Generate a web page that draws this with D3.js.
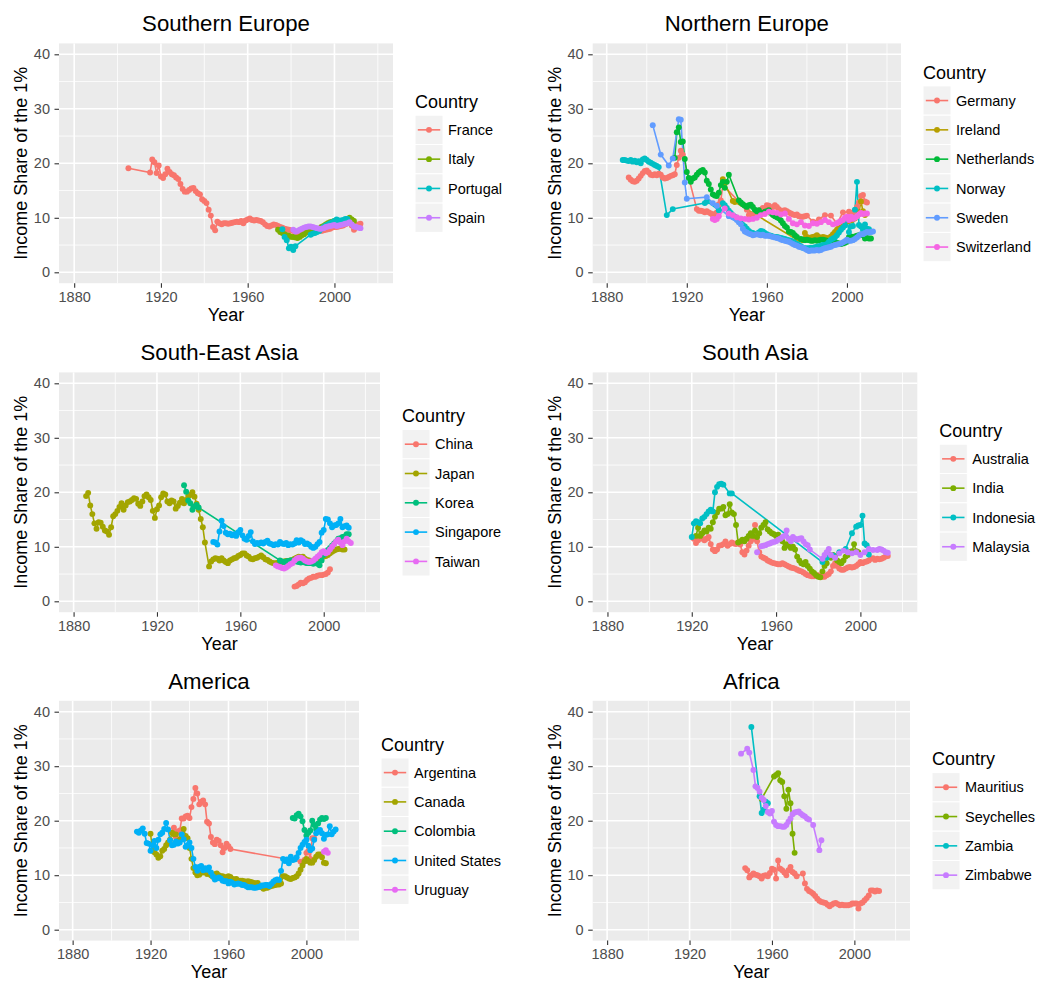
<!DOCTYPE html>
<html>
<head>
<meta charset="utf-8">
<script src="https://cdn.jsdelivr.net/npm/d3@7/dist/d3.min.js"></script>
<style>
  body { margin: 0; background: #fff; }
  svg { display: block; font-family: "Liberation Sans", Arial, Helvetica, sans-serif; }
  .tick line { stroke: #333333; }
  .tick text { fill: #4d4d4d; font-size: 14.5px; }
</style>
</head>
<body>
<script>
"use strict";

// ---- data: [year, income share of the top 1%] ----

var france = [[1905,19.1],[1915,18.3],[1916,20.7],[1917,20.2],[1918,18.2],[1919,19.6],[1920,17.6],[1921,17.3],[1922,18.0],[1923,19.0],[1924,18.4],[1925,18.0],[1926,17.8],[1927,17.4],[1928,17.1],[1929,16.2],[1930,15.3],[1931,14.8],[1932,14.8],[1933,15.1],[1934,15.4],[1935,15.5],[1936,14.9],[1937,14.5],[1938,14.3],[1939,13.4],[1940,13.1],[1941,12.7],[1942,11.5],[1943,10.4],[1944,8.3],[1945,7.7],[1946,9.3],[1947,9.0],[1948,8.8],[1949,9.0],[1950,9.0],[1951,8.9],[1952,9.0],[1953,9.1],[1954,9.2],[1955,9.3],[1956,9.2],[1957,9.4],[1958,9.0],[1959,9.5],[1960,9.7],[1961,9.9],[1962,9.6],[1963,9.5],[1964,9.6],[1965,9.5],[1966,9.4],[1967,9.2],[1968,8.8],[1969,8.5],[1970,8.4],[1971,8.6],[1972,8.8],[1973,8.7],[1974,8.5],[1975,8.3],[1976,8.2],[1977,8.0],[1978,7.9],[1979,7.8],[1980,7.7],[1981,7.6],[1982,7.4],[1983,7.3],[1984,7.4],[1985,7.5],[1986,7.6],[1987,7.7],[1988,7.8],[1989,7.9],[1990,7.9],[1991,7.8],[1992,7.7],[1993,7.6],[1994,7.6],[1995,7.7],[1996,7.8],[1997,7.9],[1998,8.0],[1999,8.2],[2000,8.3],[2001,8.3],[2002,8.4],[2003,8.5],[2004,8.6],[2005,8.8],[2006,9.0],[2007,9.3],[2008,8.6],[2009,7.8],[2010,8.2],[2011,8.8],[2012,8.9]];
var italy = [[1974,7.8],[1975,7.4],[1976,7.2],[1977,7.0],[1978,6.8],[1979,6.7],[1980,6.5],[1981,6.5],[1982,6.4],[1983,6.3],[1984,6.5],[1985,6.8],[1986,7.0],[1987,7.3],[1988,7.5],[1989,7.6],[1990,7.6],[1991,7.7],[1992,7.8],[1993,8.0],[1994,8.3],[1995,8.5],[1996,8.8],[1997,9.0],[1998,9.2],[1999,9.3],[2000,9.4],[2001,9.4],[2002,9.3],[2003,9.3],[2004,9.4],[2005,9.5],[2006,9.8],[2007,10.0],[2008,9.7],[2009,9.4]];
var portugal = [[1976,7.9],[1977,6.5],[1978,5.9],[1979,4.4],[1980,4.7],[1981,4.1],[1982,4.8],[1989,6.9],[1990,7.1],[1991,7.2],[1992,7.4],[1993,7.6],[1994,8.0],[1995,8.3],[1996,8.6],[1997,8.8],[1998,9.0],[1999,9.2],[2000,9.4],[2001,9.7],[2002,9.5],[2003,9.5],[2004,9.6],[2005,9.8],[2006,9.8]];
var spain = [[1981,7.8],[1982,7.5],[1983,7.6],[1984,7.8],[1985,8.0],[1986,8.2],[1987,8.3],[1988,8.4],[1989,8.4],[1990,8.3],[1991,8.2],[1992,8.1],[1993,8.0],[1994,8.0],[1995,8.1],[1996,8.3],[1997,8.4],[1998,8.5],[1999,8.6],[2000,8.7],[2001,8.5],[2002,8.6],[2003,8.7],[2004,8.8],[2005,8.9],[2006,9.0],[2007,9.2],[2008,8.8],[2009,8.4],[2010,8.3],[2011,8.2],[2012,8.1]];

var germany = [[1891,17.4],[1892,17.0],[1893,16.7],[1894,16.6],[1895,16.8],[1896,17.2],[1897,17.7],[1898,18.2],[1899,18.6],[1900,18.7],[1901,18.3],[1902,17.9],[1903,17.8],[1904,18.0],[1905,17.8],[1906,18.1],[1907,17.9],[1908,17.4],[1909,17.2],[1910,17.3],[1911,17.5],[1912,17.7],[1913,17.8],[1914,18.0],[1915,19.7],[1916,21.0],[1917,22.3],[1918,21.6],[1925,11.6],[1926,11.3],[1927,11.3],[1928,11.2],[1929,11.0],[1930,11.2],[1931,11.0],[1932,10.8],[1933,10.5],[1934,10.7],[1935,11.0],[1936,12.5],[1937,13.2],[1938,16.0],[1950,11.5],[1951,10.5],[1952,10.6],[1953,10.2],[1954,10.5],[1955,11.0],[1956,11.2],[1957,11.5],[1958,11.8],[1959,11.5],[1960,12.3],[1961,12.2],[1962,11.8],[1963,12.0],[1964,12.3],[1965,12.0],[1966,11.6],[1967,11.3],[1968,11.3],[1969,11.4],[1970,11.2],[1971,11.0],[1972,10.8],[1973,10.6],[1974,10.5],[1975,10.6],[1976,10.3],[1977,10.2],[1978,10.2],[1979,10.3],[1980,10.4],[1983,9.3],[1986,9.7],[1989,10.5],[1992,10.4],[1995,8.9],[1998,11.0],[2001,11.1],[2002,10.5],[2003,11.0],[2004,11.4],[2005,12.0],[2006,12.8],[2007,14.0],[2008,14.2],[2009,13.0],[2010,12.8]];
var ireland = [[1938,17.1],[1939,16.3],[1943,13.1],[1944,12.9],[1975,6.0],[1977,6.0],[1978,5.9],[1979,7.2],[1980,6.5],[1981,6.3],[1982,6.4],[1983,6.5],[1984,6.6],[1985,6.8],[1986,6.5],[1987,6.3],[1988,6.5],[1989,6.4],[1990,6.3],[1991,6.2],[1992,6.6],[1993,7.0],[1994,7.4],[1995,7.8],[1996,8.1],[1997,8.4],[1998,8.7],[1999,9.0],[2000,9.3],[2001,9.4],[2002,9.5],[2003,9.7],[2004,9.9],[2005,10.3],[2006,11.0],[2007,13.0],[2008,11.2],[2009,10.5]];
var netherlands = [[1914,21.0],[1915,25.7],[1916,26.6],[1917,23.9],[1918,24.0],[1919,20.8],[1920,18.4],[1921,17.3],[1922,16.6],[1923,17.2],[1924,17.4],[1925,17.9],[1926,18.3],[1927,18.6],[1928,18.8],[1929,18.3],[1930,16.8],[1931,16.2],[1932,15.2],[1933,14.3],[1934,14.1],[1935,14.0],[1936,14.6],[1937,16.0],[1938,16.6],[1939,15.5],[1940,16.6],[1941,17.9],[1946,13.2],[1947,12.8],[1948,12.5],[1949,12.2],[1950,12.0],[1951,12.3],[1952,12.4],[1953,12.0],[1954,11.5],[1955,11.2],[1956,11.4],[1957,10.8],[1958,10.9],[1959,11.1],[1960,11.2],[1961,11.4],[1962,10.9],[1963,10.5],[1964,10.3],[1965,10.1],[1966,9.9],[1967,9.5],[1968,9.0],[1969,8.5],[1970,8.2],[1971,7.5],[1972,7.4],[1973,7.2],[1974,6.8],[1975,6.5],[1977,6.1],[1978,6.0],[1979,5.9],[1980,6.0],[1981,5.9],[1982,5.8],[1983,5.8],[1984,5.9],[1985,5.8],[1986,5.9],[1987,6.0],[1988,6.0],[1989,5.9],[1990,5.8],[1991,5.6],[1992,5.6],[1993,5.5],[1994,5.5],[1995,5.4],[1996,5.3],[1997,5.2],[1998,5.3],[1999,5.4],[2000,5.6],[2001,6.5],[2002,6.6],[2003,6.5],[2004,6.6],[2005,6.7],[2006,6.8],[2007,6.9],[2008,6.8],[2009,6.2],[2010,6.3],[2011,6.2],[2012,6.2]];
var norway = [[1888,20.6],[1889,20.6],[1890,20.5],[1891,20.4],[1892,20.6],[1893,20.3],[1894,20.5],[1895,20.2],[1896,20.4],[1897,20.0],[1898,20.7],[1899,20.9],[1900,20.6],[1901,20.3],[1902,20.1],[1903,19.9],[1904,19.7],[1905,19.5],[1906,19.3],[1910,10.5],[1913,11.6],[1929,12.7],[1930,13.0],[1936,11.4],[1938,12.7],[1939,12.3],[1940,11.8],[1941,11.3],[1942,10.9],[1943,10.5],[1944,10.2],[1945,9.9],[1946,9.5],[1947,9.1],[1948,8.7],[1949,8.4],[1950,8.0],[1951,7.6],[1952,7.3],[1953,7.2],[1954,7.0],[1955,7.1],[1956,7.3],[1957,7.6],[1958,7.5],[1959,7.2],[1960,7.0],[1961,6.8],[1962,6.7],[1963,6.6],[1964,6.5],[1965,6.5],[1966,6.4],[1967,6.3],[1968,6.2],[1969,6.1],[1970,6.0],[1971,5.9],[1972,5.8],[1973,5.6],[1974,5.4],[1975,5.2],[1976,5.0],[1977,4.8],[1978,4.5],[1979,4.4],[1980,4.4],[1981,4.4],[1982,4.5],[1983,4.5],[1984,4.6],[1985,4.7],[1986,4.8],[1987,4.9],[1988,5.0],[1989,5.0],[1990,5.2],[1991,5.6],[1992,6.0],[1993,6.2],[1994,6.4],[1995,6.8],[1996,7.3],[1997,7.8],[1998,8.2],[1999,8.6],[2000,9.6],[2001,7.4],[2002,8.4],[2003,8.5],[2004,11.5],[2005,16.6],[2006,8.7],[2007,8.4],[2008,7.8],[2009,8.8],[2010,8.0],[2011,7.9]];
var sweden = [[1903,27.0],[1907,21.6],[1911,19.6],[1913,20.9],[1916,28.1],[1917,28.0],[1919,16.5],[1920,13.5],[1930,13.8],[1933,12.7],[1935,12.2],[1941,10.3],[1943,10.1],[1944,9.9],[1945,9.6],[1946,9.2],[1947,8.8],[1948,8.0],[1949,7.5],[1950,7.3],[1951,7.1],[1952,7.0],[1953,6.8],[1954,6.9],[1955,7.0],[1956,6.9],[1957,6.8],[1958,6.9],[1959,6.7],[1960,6.7],[1961,6.7],[1962,6.6],[1963,6.5],[1964,6.4],[1965,6.3],[1966,6.2],[1967,6.0],[1968,5.9],[1969,5.8],[1970,5.7],[1971,5.6],[1972,5.4],[1973,5.2],[1974,5.0],[1975,4.9],[1976,4.7],[1977,4.6],[1978,4.5],[1979,4.3],[1980,4.1],[1981,3.9],[1982,4.0],[1983,4.0],[1984,4.0],[1985,4.1],[1986,4.0],[1987,4.1],[1988,4.3],[1989,4.4],[1990,4.5],[1991,4.6],[1992,4.7],[1993,4.9],[1994,5.0],[1995,5.1],[1996,5.2],[1997,5.3],[1998,5.5],[1999,5.7],[2000,6.0],[2001,5.8],[2002,5.8],[2003,5.9],[2004,6.1],[2005,6.4],[2006,6.7],[2007,7.0],[2008,7.0],[2009,7.2],[2010,7.4],[2011,7.3],[2012,7.4],[2013,7.5]];
var switzerland = [[1933,9.8],[1934,9.6],[1935,9.8],[1936,10.3],[1939,11.7],[1941,10.8],[1943,10.5],[1945,10.1],[1947,9.9],[1949,9.8],[1951,9.7],[1953,9.8],[1955,10.0],[1957,10.5],[1959,10.7],[1961,11.1],[1963,11.0],[1965,10.9],[1967,10.6],[1969,10.8],[1971,9.8],[1973,9.0],[1975,8.8],[1977,9.2],[1979,8.6],[1981,8.5],[1983,9.0],[1985,8.9],[1987,9.2],[1989,9.6],[1991,9.2],[1993,8.8],[1995,9.0],[1996,9.2],[1997,9.4],[1998,9.6],[1999,10.0],[2000,10.2],[2001,9.6],[2002,10.2],[2003,9.8],[2004,10.0],[2005,10.3],[2006,10.6],[2007,10.9],[2008,10.7],[2009,10.8],[2010,10.8]];

var china = [[1986,2.7],[1987,2.8],[1988,3.1],[1989,3.4],[1990,3.3],[1991,3.5],[1992,3.9],[1993,4.2],[1994,4.3],[1995,4.5],[1996,4.5],[1997,4.7],[1998,4.8],[1999,4.8],[2000,4.9],[2001,5.0],[2002,5.3],[2003,5.9]];
var japan = [[1886,19.3],[1887,19.9],[1888,17.6],[1889,16.0],[1890,14.3],[1891,13.3],[1892,14.5],[1893,14.4],[1894,13.7],[1895,13.0],[1896,12.8],[1897,12.2],[1898,13.6],[1899,15.6],[1900,16.0],[1901,16.6],[1902,17.3],[1903,18.0],[1904,16.8],[1905,17.6],[1906,18.2],[1907,18.3],[1908,18.6],[1909,18.9],[1910,18.8],[1911,17.9],[1912,17.5],[1913,18.3],[1914,19.3],[1915,19.6],[1916,19.1],[1917,18.6],[1918,16.6],[1919,15.3],[1920,16.9],[1921,17.6],[1922,19.1],[1923,19.8],[1924,19.6],[1925,18.3],[1926,18.0],[1927,18.5],[1928,18.3],[1929,17.0],[1930,17.5],[1931,18.1],[1932,18.8],[1933,18.0],[1934,18.6],[1935,19.3],[1936,19.5],[1937,20.0],[1938,19.2],[1939,17.9],[1940,16.8],[1941,15.1],[1942,13.6],[1943,10.8],[1945,6.4],[1946,7.3],[1947,7.7],[1948,7.9],[1949,7.8],[1950,7.5],[1951,7.9],[1952,7.5],[1953,7.2],[1954,7.0],[1955,7.5],[1956,7.7],[1957,7.9],[1958,8.0],[1959,8.3],[1960,8.5],[1961,8.8],[1962,8.8],[1963,8.4],[1964,8.2],[1965,7.8],[1966,7.7],[1967,7.9],[1968,8.0],[1969,8.2],[1970,8.4],[1971,8.1],[1972,7.7],[1973,7.6],[1974,7.3],[1975,7.1],[1976,7.0],[1977,7.0],[1978,7.1],[1979,7.3],[1980,7.2],[1981,7.3],[1982,7.4],[1983,7.4],[1984,7.5],[1985,7.6],[1986,7.8],[1987,8.0],[1988,8.2],[1989,8.1],[1990,8.2],[1991,7.8],[1992,7.6],[1993,7.5],[1994,7.4],[1995,7.3],[1996,7.4],[1997,7.6],[1998,7.7],[1999,8.0],[2000,8.2],[2001,8.3],[2002,8.5],[2003,8.8],[2004,9.1],[2005,9.3],[2006,9.5],[2007,9.6],[2008,9.7],[2009,9.5],[2010,9.5]];
var korea = [[1933,21.3],[1934,20.1],[1935,18.5],[1936,18.0],[1937,16.8],[1938,17.4],[1939,17.7],[1940,17.2],[1979,7.5],[1980,7.3],[1981,7.2],[1982,7.3],[1983,7.4],[1984,7.5],[1985,7.5],[1986,7.4],[1987,7.3],[1988,7.2],[1989,7.1],[1990,7.2],[1991,7.1],[1992,7.0],[1993,7.0],[1994,7.0],[1995,6.9],[1996,7.0],[1997,6.9],[1998,6.6],[1999,7.5],[2000,8.5],[2001,9.0],[2002,9.4],[2003,9.8],[2004,10.2],[2005,10.6],[2006,11.0],[2007,11.5],[2008,11.6],[2009,11.8],[2010,11.9],[2011,12.3],[2012,12.3]];
var singapore = [[1947,10.9],[1948,10.8],[1949,10.4],[1950,12.8],[1951,14.8],[1952,13.8],[1953,12.6],[1954,12.3],[1955,12.4],[1956,12.1],[1957,12.3],[1958,12.0],[1959,12.7],[1960,13.1],[1961,12.1],[1962,11.5],[1963,11.3],[1964,12.0],[1965,12.7],[1966,11.0],[1967,10.5],[1968,10.7],[1969,10.6],[1970,10.8],[1971,10.6],[1972,10.9],[1973,11.1],[1974,10.6],[1975,10.5],[1976,10.3],[1977,10.5],[1978,10.4],[1979,10.9],[1980,10.6],[1981,10.5],[1982,10.7],[1983,10.3],[1984,10.5],[1985,10.4],[1986,10.6],[1987,11.2],[1988,10.8],[1989,11.2],[1990,11.0],[1991,10.5],[1992,10.6],[1993,10.4],[1994,10.0],[1995,9.8],[1996,10.0],[1997,10.5],[1998,10.9],[1999,12.6],[2000,13.1],[2001,15.1],[2002,15.0],[2003,14.3],[2004,13.6],[2005,13.9],[2006,14.0],[2007,14.3],[2008,15.1],[2009,13.6],[2010,13.8],[2011,13.9],[2012,13.5]];
var taiwan = [[1977,6.6],[1978,6.4],[1979,6.3],[1980,6.1],[1981,6.0],[1982,6.2],[1983,6.5],[1984,6.8],[1985,7.0],[1986,7.5],[1987,7.8],[1988,8.0],[1989,8.0],[1990,7.8],[1991,7.5],[1992,7.3],[1993,7.2],[1994,7.3],[1995,7.5],[1996,7.8],[1997,8.2],[1998,8.5],[1999,9.0],[2000,9.2],[2001,8.8],[2002,9.0],[2003,9.5],[2004,10.0],[2005,10.5],[2006,11.0],[2007,11.3],[2008,10.8],[2009,10.3],[2010,11.0],[2011,11.5],[2012,11.0],[2013,10.7]];

var australia = [[1921,11.5],[1922,10.7],[1923,11.2],[1924,12.0],[1925,11.5],[1926,11.2],[1927,11.5],[1928,11.8],[1929,10.5],[1930,9.5],[1931,9.2],[1932,9.5],[1933,10.2],[1934,10.3],[1935,10.5],[1936,11.0],[1937,10.2],[1938,10.5],[1939,10.8],[1940,10.6],[1941,10.5],[1942,10.8],[1943,10.4],[1944,9.0],[1945,8.6],[1946,9.3],[1947,10.2],[1948,11.0],[1949,11.5],[1950,14.0],[1951,11.0],[1952,9.0],[1953,8.2],[1954,8.0],[1955,7.8],[1956,7.5],[1957,7.3],[1958,7.1],[1959,7.0],[1960,6.9],[1961,6.8],[1962,6.8],[1963,7.0],[1964,6.8],[1965,6.6],[1966,6.4],[1967,6.2],[1968,6.1],[1969,6.0],[1970,5.8],[1971,5.6],[1972,5.5],[1973,5.3],[1974,5.0],[1975,4.8],[1976,4.7],[1977,4.6],[1978,4.6],[1979,4.7],[1980,4.8],[1981,4.6],[1982,4.5],[1983,4.5],[1984,4.8],[1985,5.0],[1986,5.5],[1987,6.5],[1988,7.0],[1989,6.5],[1990,6.0],[1991,5.8],[1992,5.8],[1993,6.0],[1994,6.2],[1995,6.3],[1996,6.2],[1997,6.3],[1998,6.5],[1999,6.8],[2000,7.2],[2001,7.0],[2002,7.2],[2003,7.3],[2004,7.5],[2005,7.8],[2006,7.9],[2007,7.6],[2008,7.8],[2009,7.7],[2010,7.8],[2011,8.0],[2012,8.2],[2013,8.3]];
var india = [[1922,12.0],[1923,13.5],[1924,12.0],[1925,12.5],[1926,13.0],[1927,12.8],[1928,13.5],[1929,13.3],[1930,14.5],[1931,15.5],[1932,16.3],[1933,17.0],[1934,17.0],[1935,17.3],[1936,15.8],[1937,16.0],[1938,17.8],[1939,16.3],[1940,16.0],[1941,14.0],[1942,10.8],[1943,11.0],[1944,11.3],[1945,11.0],[1946,11.5],[1947,12.0],[1948,12.5],[1949,12.0],[1950,13.0],[1951,11.8],[1952,12.5],[1953,13.5],[1954,14.0],[1955,14.5],[1956,13.2],[1957,12.8],[1958,12.5],[1959,12.3],[1960,12.0],[1961,12.2],[1962,11.5],[1963,11.0],[1964,9.8],[1965,10.5],[1966,10.2],[1967,9.8],[1968,10.0],[1969,9.5],[1970,8.2],[1971,7.5],[1972,7.0],[1973,6.8],[1974,7.2],[1975,6.5],[1976,6.0],[1977,5.5],[1978,5.2],[1979,4.8],[1980,4.5],[1981,4.4],[1982,5.5],[1983,6.5],[1984,7.0],[1985,8.5],[1986,8.0],[1987,8.5],[1988,8.2],[1989,7.5],[1990,7.2],[1991,7.0],[1992,7.5],[1993,8.2],[1994,8.5],[1995,9.0],[1996,9.2],[1997,10.5],[1998,9.2],[1999,9.0]];
var indonesia = [[1920,11.8],[1921,14.3],[1922,14.7],[1923,14.5],[1924,14.3],[1925,15.2],[1926,15.5],[1927,16.0],[1928,16.5],[1929,16.8],[1930,16.5],[1931,20.0],[1932,21.0],[1933,21.5],[1934,21.6],[1935,21.4],[1938,19.8],[1939,19.8],[1982,7.2],[1984,8.0],[1987,8.4],[1990,9.0],[1993,9.6],[1996,12.5],[1998,13.7],[1999,13.9],[2000,14.0],[2001,15.7],[2002,10.6],[2003,10.3],[2004,8.6]];
var malaysia = [[1951,9.0],[1953,10.1],[1954,10.2],[1955,10.3],[1956,10.5],[1957,10.6],[1958,10.8],[1959,10.9],[1960,11.0],[1961,11.3],[1962,11.5],[1963,11.8],[1964,12.0],[1965,13.0],[1966,11.5],[1967,11.0],[1968,11.8],[1969,11.5],[1970,11.3],[1971,11.5],[1972,11.6],[1973,11.0],[1974,10.5],[1975,10.3],[1976,9.5],[1982,7.8],[1983,8.5],[1984,9.0],[1985,9.6],[1986,8.5],[1988,8.0],[1990,8.8],[1992,9.3],[1994,9.0],[1996,8.8],[1998,9.0],[2000,8.5],[2002,9.0],[2004,9.6],[2006,9.4],[2008,9.4],[2009,9.6],[2010,9.5],[2011,9.3],[2012,9.0],[2013,8.9]];

var argentina = [[1932,18.7],[1933,17.0],[1934,18.0],[1935,18.2],[1936,20.4],[1937,20.4],[1938,20.8],[1939,20.9],[1940,20.5],[1941,22.5],[1942,24.0],[1943,26.0],[1944,25.0],[1945,23.0],[1946,23.5],[1947,23.7],[1948,23.0],[1949,19.8],[1950,19.5],[1951,17.0],[1952,16.0],[1953,15.7],[1954,16.5],[1955,16.3],[1956,15.5],[1957,14.2],[1958,15.0],[1959,15.8],[1960,15.3],[1961,14.8],[1997,12.5],[1998,12.3],[1999,12.8],[2000,14.1],[2001,14.5],[2002,13.0],[2003,16.8],[2004,16.8]];
var canada = [[1920,17.6],[1921,14.5],[1922,14.2],[1923,13.8],[1924,13.2],[1925,13.5],[1926,14.5],[1927,14.8],[1928,15.5],[1929,16.0],[1930,16.5],[1931,17.8],[1932,17.5],[1933,17.5],[1934,16.3],[1935,16.5],[1936,17.0],[1937,18.5],[1938,17.2],[1939,16.8],[1940,15.0],[1941,13.0],[1942,11.3],[1943,10.5],[1944,10.0],[1945,10.1],[1946,10.5],[1947,10.5],[1948,10.7],[1949,10.2],[1950,10.3],[1951,10.0],[1952,9.7],[1953,10.2],[1954,10.3],[1955,10.0],[1956,9.8],[1957,9.8],[1958,9.6],[1959,9.7],[1960,9.8],[1961,9.7],[1962,9.3],[1963,9.2],[1964,9.3],[1965,9.0],[1966,9.0],[1967,9.0],[1968,8.9],[1969,8.8],[1970,8.9],[1971,8.8],[1972,8.7],[1973,8.6],[1974,8.5],[1975,8.6],[1976,8.0],[1977,7.8],[1978,7.5],[1979,7.7],[1980,7.7],[1981,7.9],[1982,8.0],[1983,8.1],[1984,8.2],[1985,8.3],[1986,8.3],[1987,8.5],[1988,9.8],[1989,9.8],[1990,9.6],[1991,9.4],[1992,9.3],[1993,9.5],[1994,9.6],[1995,9.8],[1996,10.3],[1997,11.0],[1998,11.8],[1999,12.5],[2000,13.0],[2001,12.6],[2002,12.3],[2003,12.3],[2004,12.8],[2005,13.4],[2006,13.8],[2007,13.8],[2008,13.3],[2009,12.3],[2010,12.2]];
var colombia = [[1993,20.5],[1994,20.4],[1995,21.0],[1996,21.3],[1997,20.8],[1998,19.9],[1999,18.3],[2000,17.3],[2001,17.8],[2002,18.2],[2003,20.0],[2004,19.2],[2005,18.5],[2006,19.5],[2007,20.2],[2008,20.5],[2009,20.3],[2010,20.5]];
var unitedStates = [[1913,18.0],[1914,17.8],[1915,18.2],[1916,18.6],[1917,17.6],[1918,15.9],[1919,15.8],[1920,14.5],[1921,15.5],[1922,16.3],[1923,15.0],[1924,16.5],[1925,17.5],[1926,17.8],[1927,18.5],[1928,19.6],[1929,18.4],[1930,16.4],[1931,15.5],[1932,15.6],[1933,16.2],[1934,15.8],[1935,16.0],[1936,17.5],[1937,16.6],[1938,15.2],[1939,15.5],[1940,16.0],[1941,15.0],[1942,13.0],[1943,11.5],[1944,10.8],[1945,11.5],[1946,11.7],[1947,10.9],[1948,11.3],[1949,11.0],[1950,11.4],[1951,10.5],[1952,9.8],[1953,9.2],[1954,9.4],[1955,9.6],[1956,9.4],[1957,9.0],[1958,8.9],[1959,8.9],[1960,8.5],[1961,8.8],[1962,8.6],[1963,8.3],[1964,8.4],[1965,8.5],[1966,8.4],[1967,8.2],[1968,8.2],[1969,8.0],[1970,7.8],[1971,7.8],[1972,7.8],[1973,7.7],[1974,7.7],[1975,7.8],[1976,7.9],[1977,8.1],[1978,8.1],[1979,8.2],[1980,8.2],[1981,8.0],[1982,8.4],[1983,8.8],[1984,9.1],[1985,9.2],[1986,9.1],[1987,10.8],[1988,13.0],[1989,12.6],[1990,12.9],[1991,12.2],[1992,13.4],[1993,12.8],[1994,12.9],[1995,13.3],[1996,14.1],[1997,15.0],[1998,15.6],[1999,16.1],[2000,16.5],[2001,15.4],[2002,14.6],[2003,14.9],[2004,16.5],[2005,17.7],[2006,18.0],[2007,18.3],[2008,17.7],[2009,16.7],[2010,17.4],[2011,17.5],[2012,19.0],[2013,17.5],[2014,18.0],[2015,18.4]];
var uruguay = [[2009,14.3],[2010,14.6],[2011,14.1]];

var mauritius = [[1947,11.3],[1948,10.9],[1949,9.6],[1950,10.0],[1951,10.3],[1952,10.1],[1953,10.0],[1954,9.8],[1955,9.4],[1956,9.9],[1957,10.0],[1958,9.8],[1959,10.4],[1960,11.2],[1961,11.0],[1962,9.4],[1963,12.7],[1964,11.2],[1965,10.9],[1966,10.5],[1967,10.0],[1968,10.9],[1969,11.5],[1970,10.6],[1971,10.3],[1972,9.8],[1975,10.3],[1976,8.5],[1977,7.5],[1978,7.1],[1979,6.9],[1980,6.6],[1981,6.2],[1982,5.7],[1983,5.3],[1984,5.1],[1985,5.0],[1986,4.9],[1987,4.6],[1988,4.3],[1989,4.6],[1990,4.8],[1991,4.9],[1992,4.7],[1993,4.5],[1994,4.6],[1995,4.5],[1996,4.5],[1997,4.5],[1998,4.6],[1999,4.8],[2000,4.8],[2001,4.8],[2002,3.9],[2003,4.8],[2004,5.0],[2005,5.4],[2006,5.8],[2007,6.3],[2008,7.2],[2009,7.2],[2010,7.0],[2011,7.2],[2012,7.1]];
var seychelles = [[1955,24.0],[1961,28.1],[1962,28.4],[1963,28.7],[1964,27.4],[1965,27.1],[1966,24.5],[1967,22.2],[1968,25.7],[1969,23.2],[1970,17.6],[1971,14.1]];
var zambia = [[1950,37.2],[1954,24.5],[1955,21.4],[1956,22.0],[1957,23.5],[1958,23.2]];
var zimbabwe = [[1945,32.3],[1948,33.2],[1949,32.5],[1951,29.3],[1952,26.3],[1953,26.0],[1954,25.3],[1955,24.2],[1956,23.8],[1957,22.7],[1958,21.6],[1959,21.3],[1960,21.8],[1961,19.8],[1962,19.2],[1963,19.0],[1964,19.0],[1965,18.9],[1966,18.9],[1967,19.2],[1968,19.8],[1969,20.4],[1970,21.2],[1971,21.5],[1972,21.6],[1973,21.7],[1974,21.3],[1975,21.0],[1976,20.8],[1977,20.4],[1978,20.2],[1980,19.2],[1983,14.6],[1984,16.4]];

// panel titles, legend labels, tick values
var regionTitles = ["Southern Europe", "Northern Europe", "South-East Asia", "South Asia", "America", "Africa"];
var regionCountries = [
  ["France", "Italy", "Portugal", "Spain"],
  ["Germany", "Ireland", "Netherlands", "Norway", "Sweden", "Switzerland"],
  ["China", "Japan", "Korea", "Singapore", "Taiwan"],
  ["Australia", "India", "Indonesia", "Malaysia"],
  ["Argentina", "Canada", "Colombia", "United States", "Uruguay"],
  ["Mauritius", "Seychelles", "Zambia", "Zimbabwe"]
];
var regionSeries = [
  [france, italy, portugal, spain],
  [germany, ireland, netherlands, norway, sweden, switzerland],
  [china, japan, korea, singapore, taiwan],
  [australia, india, indonesia, malaysia],
  [argentina, canada, colombia, unitedStates, uruguay],
  [mauritius, seychelles, zambia, zimbabwe]
];
var xTicks = [1880, 1920, 1960, 2000];
var xMinor = [1900, 1940, 1980, 2020];
var yTicks = [0, 10, 20, 30, 40];
var yMinor = [5, 15, 25, 35];

// ggplot default hue palettes
var huePalettes = {
  4: ["#F8766D", "#7CAE00", "#00BFC4", "#C77CFF"],
  5: ["#F8766D", "#A3A500", "#00BF7D", "#00B0F6", "#E76BF3"],
  6: ["#F8766D", "#B79F00", "#00BA38", "#00BFC4", "#619CFF", "#F564E3"]
};

// ---- layout ----
var width = 1037;
var height = 981;
var plotLeft = [59, 592.7, 59, 592.7, 59, 592.7];
var plotRight = [393, 901, 380, 917.3, 359, 910];
var plotTop = [43.4, 43.4, 372.4, 372.4, 700.8, 700.8];
var plotHeight = 239.8;
var pointR = 2.95;

var svg = d3.select("body").append("svg")
  .attr("width", width)
  .attr("height", height);

regionTitles.forEach(function(title, i) {
  var x0 = plotLeft[i], x1 = plotRight[i];
  var y0 = plotTop[i], y1 = plotTop[i] + plotHeight;
  var countries = regionCountries[i];
  var series = regionSeries[i];
  var colors = huePalettes[countries.length];

  var xScale = d3.scaleLinear().domain([1873, 2027]).range([x0, x1]);
  var yScale = d3.scaleLinear().domain([-2, 42]).range([y1, y0]);

  var g = svg.append("g").attr("class", "panel");

  // panel background + grid
  g.append("rect")
    .attr("x", x0).attr("y", y0)
    .attr("width", x1 - x0).attr("height", y1 - y0)
    .attr("fill", "#ebebeb");

  g.selectAll(".xminor").data(xMinor).enter().append("line")
    .attr("x1", function(d) { return xScale(d); })
    .attr("x2", function(d) { return xScale(d); })
    .attr("y1", y0).attr("y2", y1)
    .attr("stroke", "#fff").attr("stroke-width", 0.8);
  g.selectAll(".yminor").data(yMinor).enter().append("line")
    .attr("y1", function(d) { return yScale(d); })
    .attr("y2", function(d) { return yScale(d); })
    .attr("x1", x0).attr("x2", x1)
    .attr("stroke", "#fff").attr("stroke-width", 0.8);
  g.selectAll(".xmajor").data(xTicks).enter().append("line")
    .attr("x1", function(d) { return xScale(d); })
    .attr("x2", function(d) { return xScale(d); })
    .attr("y1", y0).attr("y2", y1)
    .attr("stroke", "#fff").attr("stroke-width", 1.6);
  g.selectAll(".ymajor").data(yTicks).enter().append("line")
    .attr("y1", function(d) { return yScale(d); })
    .attr("y2", function(d) { return yScale(d); })
    .attr("x1", x0).attr("x2", x1)
    .attr("stroke", "#fff").attr("stroke-width", 1.6);

  // axes
  var xAxis = g.append("g")
    .attr("transform", "translate(0," + y1 + ")")
    .call(d3.axisBottom(xScale).tickValues(xTicks).tickFormat(d3.format("d")).tickSize(4.5).tickPadding(3.7));
  xAxis.select(".domain").remove();

  var yAxis = g.append("g")
    .attr("transform", "translate(" + x0 + ",0)")
    .call(d3.axisLeft(yScale).tickValues(yTicks).tickSize(4.5).tickPadding(4.5));
  yAxis.select(".domain").remove();

  svg.selectAll(".tick line").attr("stroke-width", 1.1);
  svg.selectAll(".tick text").attr("font-family", null);

  // axis titles
  g.append("text")
    .attr("x", (x0 + x1) / 2).attr("y", y1 + 37.5)
    .attr("text-anchor", "middle")
    .attr("font-size", 18)
    .text("Year");

  g.append("text")
    .attr("transform", "translate(" + (x0 - 32) + "," + ((y0 + y1) / 2) + ") rotate(-90)")
    .attr("text-anchor", "middle")
    .attr("font-size", 18)
    .text("Income Share of the 1%");

  // title
  g.append("text")
    .attr("x", (x0 + x1) / 2).attr("y", y0 - 12)
    .attr("text-anchor", "middle")
    .attr("font-size", 22.2)
    .text(title);

  // lines, then points
  var line = d3.line()
    .x(function(d) { return xScale(d[0]); })
    .y(function(d) { return yScale(d[1]); });

  g.selectAll(".series").data(series).enter().append("path")
    .attr("d", line)
    .attr("fill", "none")
    .attr("stroke", function(d, k) { return colors[k]; })
    .attr("stroke-width", 1.6);

  series.forEach(function(s, k) {
    g.append("g").selectAll("circle").data(s).enter().append("circle")
      .attr("cx", function(d) { return xScale(d[0]); })
      .attr("cy", function(d) { return yScale(d[1]); })
      .attr("r", pointR)
      .attr("fill", colors[k]);
  });

  // legend
  var keyH = 29.3;
  var lx = x1 + 22;
  var firstKey = (y0 + y1) / 2 + 10.5 - (countries.length - 1) * keyH / 2;
  var legend = g.append("g").attr("class", "legend");

  legend.append("text")
    .attr("x", lx).attr("y", firstKey - 22)
    .attr("font-size", 18)
    .text("Country");

  var keys = legend.selectAll(".key").data(countries).enter().append("g")
    .attr("transform", function(d, k) { return "translate(" + lx + "," + (firstKey + k * keyH) + ")"; });

  keys.append("rect")
    .attr("x", 0).attr("y", -keyH / 2)
    .attr("width", 28).attr("height", keyH)
    .attr("fill", "#f2f2f2")
    .attr("stroke", "#fff").attr("stroke-width", 1);
  keys.append("line")
    .attr("x1", 2.8).attr("x2", 25.2)
    .attr("y1", 0).attr("y2", 0)
    .attr("stroke", function(d, k) { return colors[k]; })
    .attr("stroke-width", 1.6);
  keys.append("circle")
    .attr("cx", 14).attr("cy", 0).attr("r", pointR)
    .attr("fill", function(d, k) { return colors[k]; });
  keys.append("text")
    .attr("x", 33).attr("y", 5.2)
    .attr("font-size", 14.5)
    .text(function(d) { return d; });
});
</script>
</body>
</html>
